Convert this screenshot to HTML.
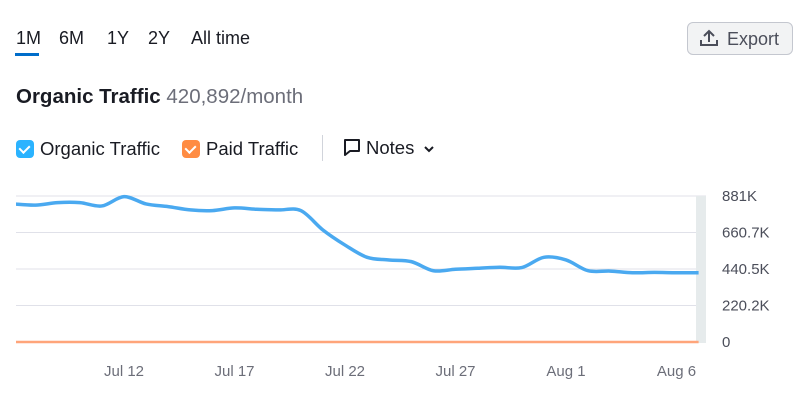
<!DOCTYPE html>
<html><head><meta charset="utf-8"><style>
body{margin:0;width:806px;height:412px;background:#fff;font-family:"Liberation Sans",sans-serif;color:#191b23;overflow:hidden;position:relative}
.abs{position:absolute}
.tab{position:absolute;top:28px;font-size:18px}
.cb{display:inline-block;width:18px;height:18px;border-radius:4px;vertical-align:-3px;margin-right:6px;position:relative}
.cb::after{content:"";position:absolute;left:5px;top:3px;width:5px;height:8px;border:solid #fff;border-width:0 2px 2px 0;transform:rotate(45deg)}
</style></head><body>
<div class="tab" style="left:16px">1M</div>
<div class="abs" style="left:15px;top:53px;width:24px;height:3px;background:#006dca"></div>
<div class="tab" style="left:59px">6M</div>
<div class="tab" style="left:107px">1Y</div>
<div class="tab" style="left:148px">2Y</div>
<div class="tab" style="left:191px">All time</div>
<div class="abs" style="left:687px;top:22px;width:106px;height:33px;border:1px solid #c4c7cf;border-radius:6px;background:#f2f3f4;font-size:18px;color:#4b4e5a;box-sizing:border-box">
<svg class="abs" style="left:11px;top:6px" width="20" height="18" viewBox="0 0 20 18"><path d="M10 13V2M5 7l5-5 5 5M2 11v5h16v-5" fill="none" stroke="#4b4e5a" stroke-width="2"/></svg>
<span class="abs" style="left:39px;top:6px">Export</span></div>
<div class="abs" style="left:16px;top:85px;font-size:20.5px"><b>Organic Traffic</b> <span style="color:#6c6e79">420,892/month</span></div>
<div class="abs" style="left:16px;top:138px;font-size:18.5px;color:#191b23"><span class="cb" style="background:#2bb3ff"></span>Organic Traffic</div>
<div class="abs" style="left:182px;top:138px;font-size:18.5px"><span class="cb" style="background:#ff8c43"></span>Paid Traffic</div>
<div class="abs" style="left:322px;top:135px;width:1px;height:26px;background:#d1d4db"></div>
<div class="abs" style="left:343px;top:137px;font-size:18.5px">
<svg width="18" height="20" viewBox="0 0 18 20" style="vertical-align:-4px;margin-right:5px"><path d="M2 2h14v11H7l-5 4z" fill="none" stroke="#191b23" stroke-width="2" stroke-linejoin="round"/></svg>Notes
<svg width="12" height="10" viewBox="0 0 12 10" style="margin-left:4px"><path d="M2 3l4 4 4-4" fill="none" stroke="#191b23" stroke-width="2"/></svg></div>
<svg id="chart" class="abs" style="left:0;top:0" width="806" height="412"></svg>
<script>
const labels=["Jul 12","Jul 17","Jul 22","Jul 27","Aug 1","Aug 6"];
const labelIdx=[5,10,15,20,25,30];
const ticks=[0,220.2,440.5,660.7,881];
const tickLabels=["0","220.2K","440.5K","660.7K","881K"];
const organic=[833,826,841,841,821,877,833,817,797,793,809,801,797,793,676,585,511,495,485,430,439,445,451,449,511,495,430,428,418,420,418,418];
const paid=organic.map(()=>0);
const NS="http://www.w3.org/2000/svg",svg=document.getElementById("chart");
const x=i=>13.5+22.1*i, y=v=>342-v/881*146;
function mk(t,a,p){const e=document.createElementNS(NS,t);for(const k in a)e.setAttribute(k,a[k]);(p||svg).appendChild(e);return e;}
const cp=mk("clipPath",{id:"cl"});mk("rect",{x:16,y:180,width:684,height:170},cp);
ticks.forEach((t,i)=>{
 const g=mk("line",{x1:16,x2:706,y1:y(t),y2:y(t),stroke:"#e0e1e9","stroke-width":1});
 
 const tx=mk("text",{x:722,y:y(t)+5,"font-size":15,fill:"#4b4e5a"});tx.textContent=tickLabels[i];
 
});
const band=mk("rect",{x:696,y:196,width:10,height:147,fill:"#e6ebec"});

labels.forEach((l,i)=>{const t=mk("text",{x:x(labelIdx[i]),y:376,"font-size":15,fill:"#6c6e79","text-anchor":"middle"});t.textContent=l;
 });
function path(d){const p=d.map((v,i)=>[x(i),y(v)]);let s=`M${p[0][0]},${p[0][1]}`;
 for(let i=0;i<p.length-1;i++){const p0=p[i-1]||p[i],p1=p[i],p2=p[i+1],p3=p[i+2]||p2;
  s+=`C${p1[0]+(p2[0]-p0[0])/6},${p1[1]+(p2[1]-p0[1])/6} ${p2[0]-(p3[0]-p1[0])/6},${p2[1]-(p3[1]-p1[1])/6} ${p2[0]},${p2[1]}`;}return s;}
const pl=mk("path",{d:path(paid),fill:"none",stroke:"#ffa57a","stroke-width":2.5,"clip-path":"url(#cl)"});

const ol=mk("path",{d:path(organic),fill:"none",stroke:"#4aa9f0","stroke-width":3.5,"stroke-linejoin":"round","clip-path":"url(#cl)"});

</script>
</body></html>
